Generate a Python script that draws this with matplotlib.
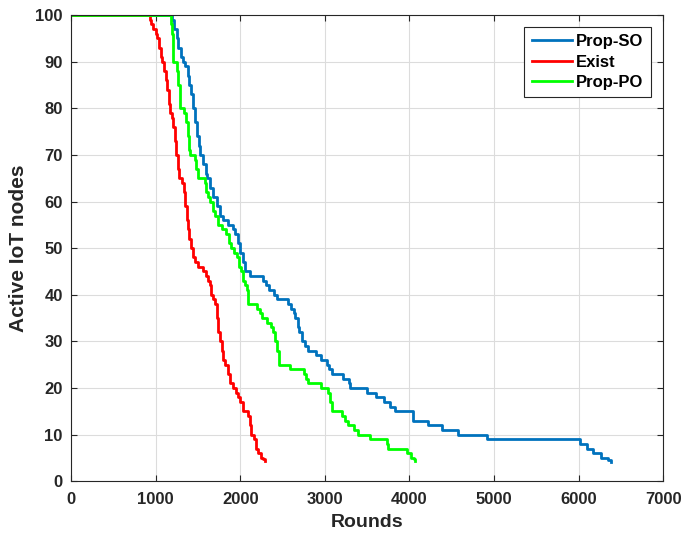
import matplotlib
matplotlib.use('Agg')
from matplotlib import pyplot as plt

# (round at which the count drops, count after the drop)
so_rounds = [0, 1190, 1220, 1250, 1270, 1300, 1325, 1350, 1385, 1400, 1420,
             1444, 1465, 1490, 1510, 1530, 1560, 1590, 1610, 1640, 1680, 1720,
             1760, 1800, 1860, 1910, 1940, 1970, 2000, 2030, 2060,
             2110, 2270, 2300, 2340, 2400, 2440, 2560, 2600, 2630, 2650, 2680,
             2700, 2730, 2760, 2800, 2900, 2960, 3020, 3050, 3080, 3220, 3280,
             3300, 3500, 3600, 3700, 3770, 3830, 4040, 4220, 4390, 4580, 4920,
             6020, 6100, 6170, 6260, 6350, 6380]
so_nodes = [100, 99, 97, 95, 93, 91, 90, 89, 87, 85, 83,
            80, 77, 74, 72, 70, 68, 66, 65, 63, 61, 59,
            57, 56, 55, 54, 53, 51, 49, 47, 45,
            44, 43, 42, 41, 40, 39, 38, 37, 36, 35, 33,
            32, 30, 29, 28, 27, 26, 25, 24, 23, 22, 21,
            20, 19, 18, 17, 16, 15, 13, 12, 11, 10, 9,
            8, 7, 6, 5, 4.5, 4]

ex_rounds = [0, 930, 950, 970, 1000, 1020, 1040, 1060, 1080, 1100, 1120,
             1140, 1160, 1175, 1190, 1210, 1225, 1240, 1260, 1280, 1310, 1330,
             1350, 1370, 1385, 1400, 1420, 1440, 1470, 1500, 1560, 1590, 1620,
             1640, 1660, 1680, 1700, 1720, 1740, 1760, 1780, 1800, 1820, 1850,
             1880, 1920, 1950, 1970, 2000, 2030, 2090, 2110, 2130, 2160, 2190,
             2210, 2240, 2270, 2290]
ex_nodes = [100, 99, 98, 97, 96, 95, 93, 91, 90, 88, 86,
            84, 81, 79, 78, 76, 73, 70, 67, 65, 64, 62,
            59, 56, 54, 52, 50, 48, 47, 46, 45, 44, 43,
            42, 40, 39, 38, 35, 32, 30, 28, 26, 25, 23,
            21, 20, 19, 18, 17, 15, 14, 12, 10, 9, 7,
            6, 5, 4.7, 4.4]

po_rounds = [0, 1180, 1195, 1205, 1210, 1250, 1270, 1290, 1340, 1360, 1380,
             1400, 1410, 1460, 1480, 1500, 1580, 1600, 1615, 1645, 1675, 1700,
             1735, 1790, 1830, 1865, 1890, 1930, 1960, 1990, 2010, 2030, 2060,
             2080, 2090, 2200, 2230, 2260, 2320, 2360, 2390, 2410, 2430, 2460,
             2590, 2750, 2780, 2800, 2950, 3040, 3060, 3090, 3200, 3240, 3270,
             3340, 3390, 3530, 3730, 3745, 3970, 4020, 4050, 4070]
po_nodes = [100, 98, 96, 93, 90, 88, 85, 80, 79, 77, 74,
            71, 70, 69, 67, 65, 64, 62, 61, 60, 58, 57,
            55, 54, 53, 51, 50, 49, 48, 46, 45, 43, 42,
            41, 38, 37, 36, 35, 34, 33, 32, 30, 28, 25,
            24, 23, 22, 21, 20, 19, 17, 15, 14, 13, 12,
            11, 10, 9, 8, 7, 6, 5, 4.7, 4.4]

plt.rcParams['font.family'] = ['Liberation Sans', 'DejaVu Sans']

fig = plt.figure(figsize=(6.83, 5.4), dpi=100)
ax = fig.add_axes([0.104, 0.109, 0.867, 0.863])

ax.plot(so_rounds, so_nodes, drawstyle='steps-post', color='#0072BD',
        lw=2, label='Prop-SO')
ax.plot(ex_rounds, ex_nodes, drawstyle='steps-post', color='#FF0000',
        lw=2, label='Exist')
ax.plot(po_rounds, po_nodes, drawstyle='steps-post', color='#00FF00',
        lw=2, label='Prop-PO')

ax.set_xlim(0, 7000)
ax.set_ylim(0, 100)
ax.set_xticks(range(0, 7001, 1000))
ax.set_yticks(range(0, 101, 10))
ax.grid(True, color='#dcdcdc', lw=0.8)
ax.tick_params(direction='in', top=True, right=True, labelsize=12,
               colors='#262626', length=4)
ax.tick_params(axis='x', pad=8)
ax.tick_params(axis='y', pad=6)
for lab in ax.get_xticklabels() + ax.get_yticklabels():
    lab.set_fontweight('bold')
for s in ax.spines.values():
    s.set_color('#262626')
    s.set_linewidth(0.8)

ax.set_xlabel('Rounds', fontsize=14, fontweight='bold', color='#262626',
              labelpad=5)
ax.set_ylabel('Active IoT nodes', fontsize=15, fontweight='bold',
              color='#262626', labelpad=5)

leg = ax.legend(loc='upper right', bbox_to_anchor=(0.979, 0.975),
                fancybox=False, framealpha=1, edgecolor='#262626',
                prop={'weight': 'bold', 'size': 12}, handlelength=2.4,
                borderpad=0.45, labelspacing=0.32, handletextpad=0.25,
                borderaxespad=0)
leg.get_frame().set_linewidth(0.8)

fig.savefig('out.png', dpi=100)
